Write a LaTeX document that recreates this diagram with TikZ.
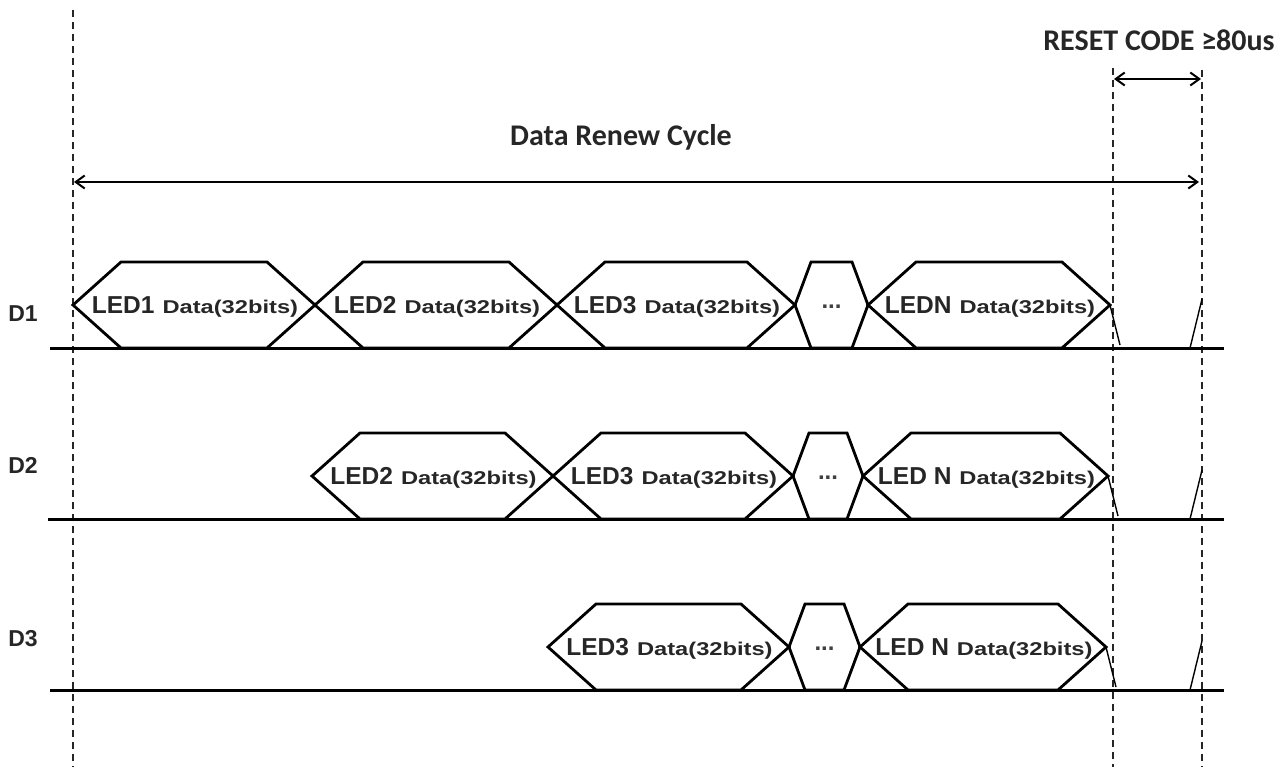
\documentclass[tikz,border=0pt]{standalone}
\usepackage{fontspec}
\setmainfont{Liberation Sans}
\newfontfamily\titlefont{Carlito}
\newfontfamily\ledfont{Liberation Sans}
\newfontfamily\datafont[FakeStretch=1.28]{Liberation Sans}
\usetikzlibrary{arrows.meta}
\newcommand{\ledtxt}[1]{{\ledfont\bfseries\fontsize{24.5}{26}\selectfont #1}\hspace{8pt}{\datafont\bfseries\fontsize{18.5}{19}\selectfont Data(32bits)}}
% #1 name, #2 left x, #3 right x, #4 mid y, #5 label
\newcommand{\hexa}[5]{%
  \draw[hexline] (#2,#4) -- ({#2+48},{#4-43}) -- ({#3-48},{#4-43}) -- (#3,#4)
     -- ({#3-48},{#4+43}) -- ({#2+48},{#4+43}) -- cycle;
  \node[ledlabel] (#1) at ({(#2+#3)/2+1},{#4+2}) {\ledtxt{#5}};}
\newcommand{\dotshex}[4]{%
  \draw[hexline] (#2,#4) -- ({#2+16},{#4-43}) -- ({#3-16},{#4-43}) -- (#3,#4)
     -- ({#3-16},{#4+43}) -- ({#2+16},{#4+43}) -- cycle;
  \node[dotlabel] (#1) at ({(#2+#3)/2},{#4+2}) {...};}
% #1 row prefix, #2 right point x, #3 mid y
\newcommand{\resetedge}[3]{%
  \coordinate (#1fa) at (#2,#3);
  \coordinate (#1fb) at ({#2+10},{#3+40});
  \coordinate (#1ra) at (1190,{#3+43});
  \coordinate (#1rb) at (1202,{#3-6});
  \draw[edgeline] (#1fa) -- (#1fb);
  \draw[edgeline] (#1ra) -- (#1rb);}
\tikzset{
  hexline/.style={line width=2.8pt, line join=miter, black},
  baseline/.style={line width=3pt, black},
  guide/.style={line width=1.3pt, dash pattern=on 7pt off 5pt, black!85},
  dimarrow/.style={line width=2pt, {Straight Barb[length=9pt,width=13pt,line width=2pt]}-{Straight Barb[length=9pt,width=13pt,line width=2pt]}},
  edgeline/.style={line width=1.4pt},
  ledlabel/.style={inner sep=0pt, text=black!85},
  dotlabel/.style={inner sep=0pt, font=\ledfont\bfseries\fontsize{24}{26}\selectfont, text=black!75},
  rowlabel/.style={inner sep=0pt, font=\ledfont\bfseries\fontsize{23}{25}\selectfont, text=black!85},
  title/.style={inner sep=0pt, font=\titlefont\bfseries\fontsize{30}{32}\selectfont, text=black!85},
}
\begin{document}
\begin{tikzpicture}[x=1pt,y=-1pt]
\useasboundingbox (0,0) rectangle (1287,767);
% guides
\coordinate (gLt) at (73,10);   \coordinate (gLb) at (73,767);
\coordinate (gAt) at (1113,68); \coordinate (gAb) at (1113,767);
\coordinate (gBt) at (1202,70); \coordinate (gBb) at (1202,767);
\draw[guide] (gLt) -- (gLb);
\draw[guide] (gAt) -- (gAb);
\draw[guide] (gBt) -- (gBb);
% titles and dimension arrows
\node[title] (reset) at (1159,40) {RESET CODE ≥80us};
\coordinate (rsL) at (1114,79); \coordinate (rsR) at (1201,79);
\draw[dimarrow] (rsL) -- (rsR);
\node[title] (drc) at (621,137) {Data Renew Cycle};
\coordinate (drcL) at (74,182); \coordinate (drcR) at (1199,182);
\draw[dimarrow] (drcL) -- (drcR);
% row labels
\node[rowlabel] (lD1) at (23,314) {D1};
\node[rowlabel] (lD2) at (23,465) {D2};
\node[rowlabel] (lD3) at (23,639) {D3};
% baselines
\coordinate (b1L) at (50,348); \coordinate (b1R) at (1224,348);
\coordinate (b2L) at (48,519); \coordinate (b2R) at (1224,519);
\coordinate (b3L) at (50,690); \coordinate (b3R) at (1224,690);
\draw[baseline] (b1L) -- (b1R);
\draw[baseline] (b2L) -- (b2R);
\draw[baseline] (b3L) -- (b3R);
% D1
\hexa{d1a}{73}{315}{305}{LED1}
\hexa{d1b}{315}{557}{305}{LED2}
\hexa{d1c}{557}{795}{305}{LED3}
\dotshex{d1d}{795}{868}{305}
\hexa{d1e}{868}{1110}{305}{LEDN}
\resetedge{r1}{1110}{305}
% D2
\hexa{d2b}{312}{553}{476}{LED2}
\hexa{d2c}{553}{793}{476}{LED3}
\dotshex{d2d}{793}{863}{476}
\hexa{d2e}{863}{1108}{476}{LED N}
\resetedge{r2}{1108}{476}
% D3
\hexa{d3c}{548}{789}{647}{LED3}
\dotshex{d3d}{789}{860}{647}
\hexa{d3e}{860}{1106}{647}{LED N}
\resetedge{r3}{1106}{647}
\end{tikzpicture}
\end{document}
